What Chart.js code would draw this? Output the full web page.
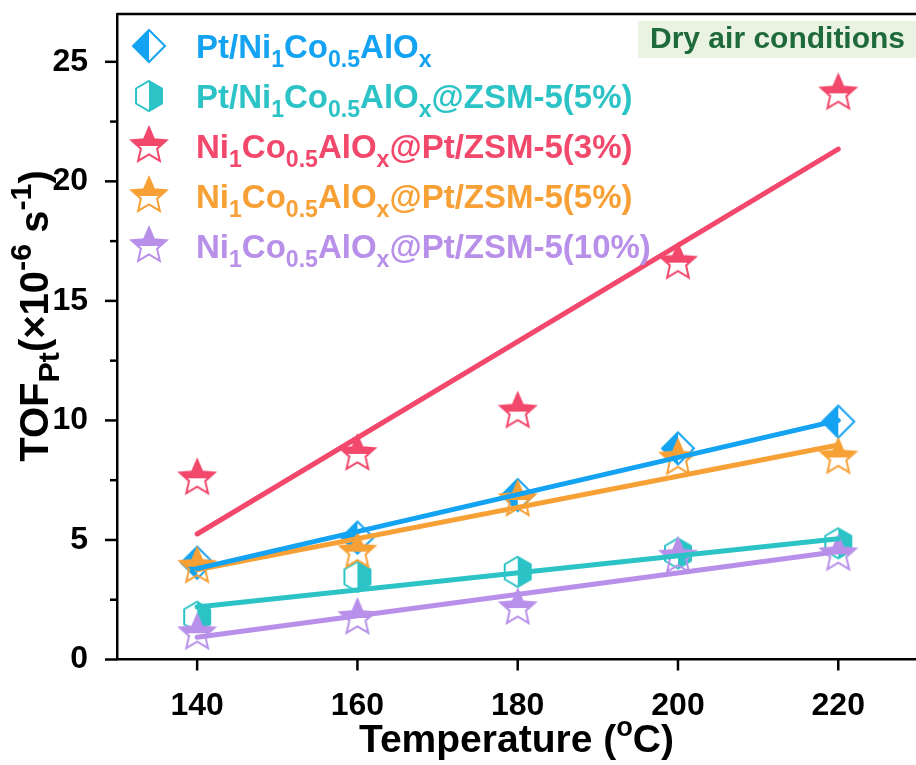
<!DOCTYPE html>
<html>
<head>
<meta charset="utf-8">
<script src="https://cdn.jsdelivr.net/npm/chart.js@4.4.0/dist/chart.umd.min.js"></script>
<style>
  body { margin: 0; background: #fff; }
  canvas { display: block; }
</style>
</head>
<body>
<canvas id="myChart" width="916" height="765"></canvas>
<script>
// data
var temps = [140, 160, 180, 200, 220];
var seriesNames = [
    'Pt/Ni_1Co_{0.5}AlO_x',
    'Pt/Ni_1Co_{0.5}AlO_x@ZSM-5(5%)',
    'Ni_1Co_{0.5}AlO_x@Pt/ZSM-5(3%)',
    'Ni_1Co_{0.5}AlO_x@Pt/ZSM-5(5%)',
    'Ni_1Co_{0.5}AlO_x@Pt/ZSM-5(10%)'
];
var ptNiCo = [4.05, 5.1, 6.88, 8.83, 9.95];
var ptNiCoZsm5 = [1.79, 3.46, 3.67, 4.44, 4.86];
var niCoPtZsm3 = [7.58, 8.6, 10.37, 16.6, 23.68];
var niCoPtZsm5 = [3.88, 4.51, 6.67, 8.41, 8.45];
var niCoPtZsm10 = [1.1, 1.74, 2.15, 4.3, 4.4];

// fitted lines, value at each end
var fitEnds = [140, 220];
var fitPtNiCo = [3.8, 10.0];
var fitPtNiCoZsm5 = [2.2, 5.05];
var fitNiCoPtZsm3 = [5.25, 21.35];
var fitNiCoPtZsm5 = [3.75, 8.97];
var fitNiCoPtZsm10 = [0.93, 4.52];

var xTicks = [140, 160, 180, 200, 220];
var yTicks = [0, 5, 10, 15, 20, 25];
var yMinorTicks = [2.5, 7.5, 12.5, 17.5, 22.5];

var xTitle = 'Temperature (^oC)';
var yTitle = 'TOF_{Pt}(×10^{-6} s^{-1})';
var noteText = 'Dry air conditions';

var allSeries = [ptNiCo, ptNiCoZsm5, niCoPtZsm3, niCoPtZsm5, niCoPtZsm10];
var allFits = [fitPtNiCo, fitPtNiCoZsm5, fitNiCoPtZsm3, fitNiCoPtZsm5, fitNiCoPtZsm10];

// styles
var colors = ['#14a2f2', '#2cc3c6', '#f2486b', '#f7a035', '#b890ea'];
var markerKinds = ['diamond', 'hexagon', 'star', 'star', 'star'];
var FONT = '"Liberation Sans", Arial, sans-serif';

function makeMarker(kind, color) {
    var c = document.createElement('canvas');
    c.width = 44;
    c.height = 44;
    var g = c.getContext('2d');
    g.translate(22, 22);
    g.beginPath();
    if (kind == 'diamond') {
        var r = 16;
        g.moveTo(0, -r); g.lineTo(r, 0); g.lineTo(0, r); g.lineTo(-r, 0);
    } else if (kind == 'hexagon') {
        var r = 15;
        for (var k = 0; k < 6; k++) {
            var a = -Math.PI / 2 + k * Math.PI / 3;
            g.lineTo(r * Math.cos(a), r * Math.sin(a));
        }
    } else {
        var R = 18.5, ri = 8.5;
        for (var k = 0; k < 10; k++) {
            var a = -Math.PI / 2 + k * Math.PI / 5;
            var rr = k % 2 ? ri : R;
            g.lineTo(rr * Math.cos(a), rr * Math.sin(a));
        }
    }
    g.closePath();
    g.save();
    g.clip();
    g.fillStyle = color;
    if (kind == 'diamond') g.fillRect(-22, -22, 22, 44);      // left half
    else if (kind == 'hexagon') g.fillRect(0, -22, 22, 44);   // right half
    else g.fillRect(-22, -22, 44, 22);                        // top half
    g.restore();
    g.lineWidth = 2;
    g.strokeStyle = color;
    g.stroke();
    return c;
}

var markers = markerKinds.map(function(k, i) { return makeMarker(k, colors[i]); });

// text with _sub and ^sup parts
function parseRich(s) {
    var segs = [];
    var cur = '';
    for (var i = 0; i < s.length; i++) {
        var ch = s[i];
        if (ch == '_' || ch == '^') {
            if (cur) segs.push({ t: cur, m: 'n' });
            cur = '';
            var part;
            if (s[i + 1] == '{') {
                var end = s.indexOf('}', i);
                part = s.substring(i + 2, end);
                i = end;
            } else {
                part = s[i + 1];
                i++;
            }
            segs.push({ t: part, m: ch == '_' ? 'sub' : 'sup' });
        } else {
            cur += ch;
        }
    }
    if (cur) segs.push({ t: cur, m: 'n' });
    return segs;
}

function drawRich(ctx, s, x, y, size, color, align, smallRatio) {
    var segs = parseRich(s);
    var small = size * (smallRatio || 0.68);
    var total = 0;
    segs.forEach(function(sg) {
        ctx.font = 'bold ' + (sg.m == 'n' ? size : small) + 'px ' + FONT;
        sg.w = ctx.measureText(sg.t).width;
        total += sg.w;
    });
    var cx = align == 'center' ? x - total / 2 : x;
    ctx.fillStyle = color;
    ctx.textAlign = 'left';
    ctx.textBaseline = 'alphabetic';
    segs.forEach(function(sg) {
        ctx.font = 'bold ' + (sg.m == 'n' ? size : small) + 'px ' + FONT;
        var dy = sg.m == 'sub' ? size * 0.28 : (sg.m == 'sup' ? -size * 0.42 : 0);
        ctx.fillText(sg.t, cx, y + dy);
        cx += sg.w;
    });
}

var decorPlugin = {
    id: 'decor',
    afterDraw: function(chart) {
        var ctx = chart.ctx;
        var area = chart.chartArea;
        var xs = chart.scales.x, ys = chart.scales.y;
        ctx.save();
        // top frame line
        ctx.strokeStyle = '#000';
        ctx.lineWidth = 2.5;
        ctx.beginPath();
        ctx.moveTo(area.left, area.top);
        ctx.lineTo(area.right, area.top);
        ctx.stroke();
        // tick marks
        xTicks.forEach(function(v) {
            var px = xs.getPixelForValue(v);
            ctx.beginPath();
            ctx.moveTo(px, area.bottom);
            ctx.lineTo(px, area.bottom + 11);
            ctx.stroke();
        });
        yTicks.forEach(function(v) {
            var py = ys.getPixelForValue(v);
            ctx.beginPath();
            ctx.moveTo(area.left, py);
            ctx.lineTo(area.left - 12, py);
            ctx.stroke();
        });
        yMinorTicks.forEach(function(v) {
            var py = ys.getPixelForValue(v);
            ctx.beginPath();
            ctx.moveTo(area.left, py);
            ctx.lineTo(area.left - 7, py);
            ctx.stroke();
        });

        // note box
        ctx.fillStyle = '#eaf3e2';
        ctx.fillRect(638, 21, area.right - 638, 37);
        ctx.fillStyle = '#1f6a3b';
        ctx.font = 'bold 30px ' + FONT;
        ctx.textAlign = 'left';
        ctx.textBaseline = 'middle';
        ctx.fillText(noteText, 650, 40);

        // legend
        seriesNames.forEach(function(name, i) {
            var cy = 46 + i * 50;
            ctx.drawImage(markers[i], 149 - 22, cy - 22);
            drawRich(ctx, name, 196, cy + 12, 33, colors[i], 'left', 0.7);
        });

        // axis titles
        drawRich(ctx, xTitle, (area.left + area.right) / 2, 752, 39, '#000', 'center', 0.7);
        ctx.translate(48, 316);
        ctx.rotate(-Math.PI / 2);
        drawRich(ctx, yTitle, 0, 0, 40, '#000', 'center', 0.76);
        ctx.restore();
    }
};

var datasets = [];
allFits.forEach(function(fit, i) {
    datasets.push({
        type: 'line',
        data: fitEnds.map(function(t, j) { return { x: t, y: fit[j] }; }),
        borderColor: colors[i],
        borderWidth: 5,
        borderCapStyle: 'round',
        pointRadius: 0,
        fill: false,
        order: 0
    });
});
allSeries.forEach(function(vals, i) {
    datasets.push({
        type: 'scatter',
        data: temps.map(function(t, j) { return { x: t, y: vals[j] }; }),
        pointStyle: markers[i],
        pointRadius: 18,
        showLine: false,
        order: 10 - i
    });
});

function noPad(scale) {
    scale.paddingTop = 0;
    scale.paddingBottom = 0;
    scale.paddingLeft = 0;
    scale.paddingRight = 0;
}

var ctx = document.getElementById('myChart').getContext('2d');
var myChart = new Chart(ctx, {
    type: 'scatter',
    data: { datasets: datasets },
    options: {
        responsive: false,
        maintainAspectRatio: false,
        animation: false,
        devicePixelRatio: 1,
        layout: { autoPadding: false, padding: { top: 14, right: 0, left: 0, bottom: 0 } },
        plugins: { legend: { display: false }, tooltip: { enabled: false } },
        scales: {
            x: {
                type: 'linear',
                min: 130,
                max: 229.7,
                grid: { display: false },
                border: { display: true, color: '#000', width: 2.5 },
                ticks: { color: '#000', font: { family: FONT, size: 32, weight: 'bold' }, padding: 19 },
                afterBuildTicks: function(scale) {
                    scale.ticks = xTicks.map(function(v) { return { value: v }; });
                },
                afterFit: function(scale) { scale.height = 105.5; noPad(scale); }
            },
            y: {
                type: 'linear',
                min: 0,
                max: 27,
                grid: { display: false },
                border: { display: true, color: '#000', width: 2.5 },
                ticks: { color: '#000', font: { family: FONT, size: 32, weight: 'bold' }, padding: 21 },
                afterBuildTicks: function(scale) {
                    scale.ticks = yTicks.map(function(v) { return { value: v }; });
                },
                afterFit: function(scale) { scale.width = 117; noPad(scale); }
            }
        }
    },
    plugins: [decorPlugin]
});
</script>
</body>
</html>
